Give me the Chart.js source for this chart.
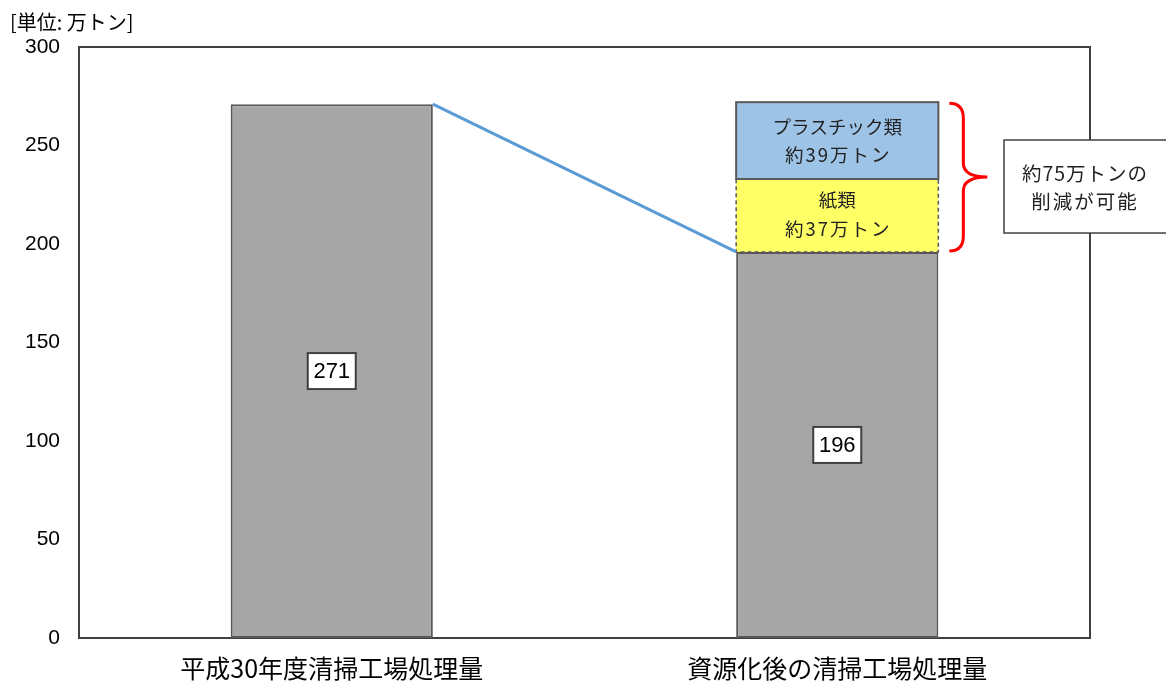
<!DOCTYPE html>
<html>
<head>
<meta charset="utf-8">
<script src="https://cdn.jsdelivr.net/npm/chart.js@4"></script>
<style>
html,body{margin:0;padding:0;background:#fff;}
#wrap{position:relative;width:1166px;height:688px;}
</style>
</head>
<body>
<div id="wrap"><canvas id="c" width="1166" height="688"></canvas></div>
<script>
const categories = ["平成30年度清掃工場処理量", "資源化後の清掃工場処理量"];
const incinerated = [271, 196];
const paper = [null, 37];
const plastics = [null, 39];
const paperLabel = ["紙類", "約37万トン"];
const plasticLabel = ["プラスチック類", "約39万トン"];
const calloutLines = ["約75万トンの", "削減が可能"];
const unitLabel = "[単位: 万トン]";
const yTicks = [0, 50, 100, 150, 200, 250, 300];

const JP = '"Noto Sans CJK JP", "Noto Sans", sans-serif';
const NUM = '"Liberation Sans Narrow", "Liberation Sans", Arial, sans-serif';

const overlay = {
  id: 'overlay',
  afterDatasetsDraw(chart) {
    const ctx = chart.ctx;
    const y = chart.scales.y;
    const m0 = chart.getDatasetMeta(0).data;
    const m1 = chart.getDatasetMeta(1).data;
    const m2 = chart.getDatasetMeta(2).data;
    ctx.save();
    const p = m1[1];
    const q = m2[1];
    // solid plastic border
    ctx.strokeStyle = '#595959';
    ctx.lineWidth = 2;
    ctx.strokeRect(q.x - q.width / 2, q.y, q.width, q.base - q.y);
    // dashed border of paper segment
    ctx.lineWidth = 1.5;
    ctx.setLineDash([4, 3]);
    ctx.strokeRect(p.x - p.width / 2, p.y, p.width, p.base - p.y);
    ctx.setLineDash([]);

    // connecting blue line
    const a = m0[0], b = m0[1];
    ctx.strokeStyle = '#5b9bd5';
    ctx.lineWidth = 3;
    ctx.beginPath();
    ctx.moveTo(a.x + a.width / 2, y.getPixelForValue(incinerated[0]));
    ctx.lineTo(b.x - b.width / 2, y.getPixelForValue(incinerated[1]));
    ctx.stroke();

    // value boxes
    ctx.font = '22px ' + NUM;
    ctx.textAlign = 'center';
    ctx.textBaseline = 'middle';
    m0.forEach((el, i) => {
      const cy = (el.y + el.base) / 2;
      const w = 48, h = 36;
      ctx.fillStyle = '#fff';
      ctx.fillRect(el.x - w / 2, cy - h / 2, w, h);
      ctx.strokeStyle = '#404040';
      ctx.lineWidth = 2;
      ctx.strokeRect(el.x - w / 2, cy - h / 2, w, h);
      ctx.fillStyle = '#000';
      ctx.fillText(String(incinerated[i]), el.x, cy + 1);
    });

    // segment texts
    ctx.fillStyle = '#222';
    const pc = (p.y + p.base) / 2;
    const qc = (q.y + q.base) / 2;
    ctx.font = '18.5px ' + JP;
    ctx.fillText(paperLabel[0], p.x, pc - 15);
    ctx.fillText(plasticLabel[0], q.x, qc - 14);
    ctx.letterSpacing = '2px';
    ctx.fillText(paperLabel[1], p.x + 1, pc + 14);
    ctx.fillText(plasticLabel[1], q.x + 1, qc + 14);
    ctx.letterSpacing = '0px';

    // red brace
    const top = q.y, bot = p.base;
    const mid = (top + bot) / 2;
    const x0 = q.x + q.width / 2 + 11;
    const xm = x0 + 14, xt = x0 + 38;
    ctx.strokeStyle = '#ff0000';
    ctx.lineWidth = 3;
    ctx.beginPath();
    ctx.moveTo(x0, top + 1);
    ctx.quadraticCurveTo(xm, top + 1, xm, top + 16);
    ctx.lineTo(xm, mid - 14);
    ctx.quadraticCurveTo(xm, mid, xt, mid);
    ctx.quadraticCurveTo(xm, mid, xm, mid + 14);
    ctx.lineTo(xm, bot - 16);
    ctx.quadraticCurveTo(xm, bot - 1, x0, bot - 1);
    ctx.stroke();

    // callout box
    const bx = 1004, by = mid - 37, bw = 170, bh = 93;
    ctx.fillStyle = '#fff';
    ctx.fillRect(bx, by, bw, bh);
    ctx.strokeStyle = '#404040';
    ctx.lineWidth = 1.5;
    ctx.strokeRect(bx, by, bw, bh);
    ctx.fillStyle = '#222';
    ctx.font = '19.5px ' + JP;
    ctx.letterSpacing = '1px';
    ctx.fillText(calloutLines[0], 1085, by + 34);
    ctx.letterSpacing = '2px';
    ctx.fillText(calloutLines[1], 1085, by + 62);
    ctx.letterSpacing = '0px';

    // unit label
    ctx.textAlign = 'left';
    ctx.fillStyle = '#000';
    ctx.font = '20px ' + JP;
    ctx.fillText(unitLabel, 10, 22);
    ctx.restore();
  },
  beforeDatasetsDraw(chart) {
    const ctx = chart.ctx, ca = chart.chartArea;
    ctx.save();
    ctx.strokeStyle = '#404040';
    ctx.lineWidth = 2;
    ctx.strokeRect(ca.left, ca.top, ca.right - ca.left, ca.bottom - ca.top);
    ctx.restore();
  }
};

new Chart(document.getElementById('c'), {
  type: 'bar',
  data: {
    labels: categories,
    datasets: [
      { label: '処理量', data: incinerated, backgroundColor: '#a6a6a6', borderColor: '#595959', borderWidth: 2, borderSkipped: false },
      { label: '紙類', data: paper, backgroundColor: '#ffff66', borderWidth: 0 },
      { label: 'プラスチック類', data: plastics, backgroundColor: '#9dc3e6', borderWidth: 0 }
    ]
  },
  options: {
    responsive: false,
    animation: false,
    devicePixelRatio: 1,
    layout: { padding: { top: 47, right: 76, left: 0, bottom: 0 } },
    datasets: { bar: { categoryPercentage: 1, barPercentage: 0.4 } },
    plugins: { legend: { display: false }, tooltip: { enabled: false } },
    scales: {
      x: {
        stacked: true,
        grid: { display: false, drawTicks: false },
        border: { display: false },
        ticks: { font: { family: JP, size: 25 }, color: '#000', padding: 15, maxRotation: 0 },
        afterFit(s) { s.height = 50; }
      },
      y: {
        stacked: true,
        min: 0, max: 300,
        afterBuildTicks(s) { s.ticks = yTicks.map(v => ({ value: v })); },
        grid: { display: false, drawTicks: false },
        border: { display: false },
        ticks: { font: { family: NUM, size: 21 }, color: '#000', padding: 19 },
        afterFit(s) { s.width = 79; }
      }
    }
  },
  plugins: [overlay]
});
</script>
</body>
</html>
